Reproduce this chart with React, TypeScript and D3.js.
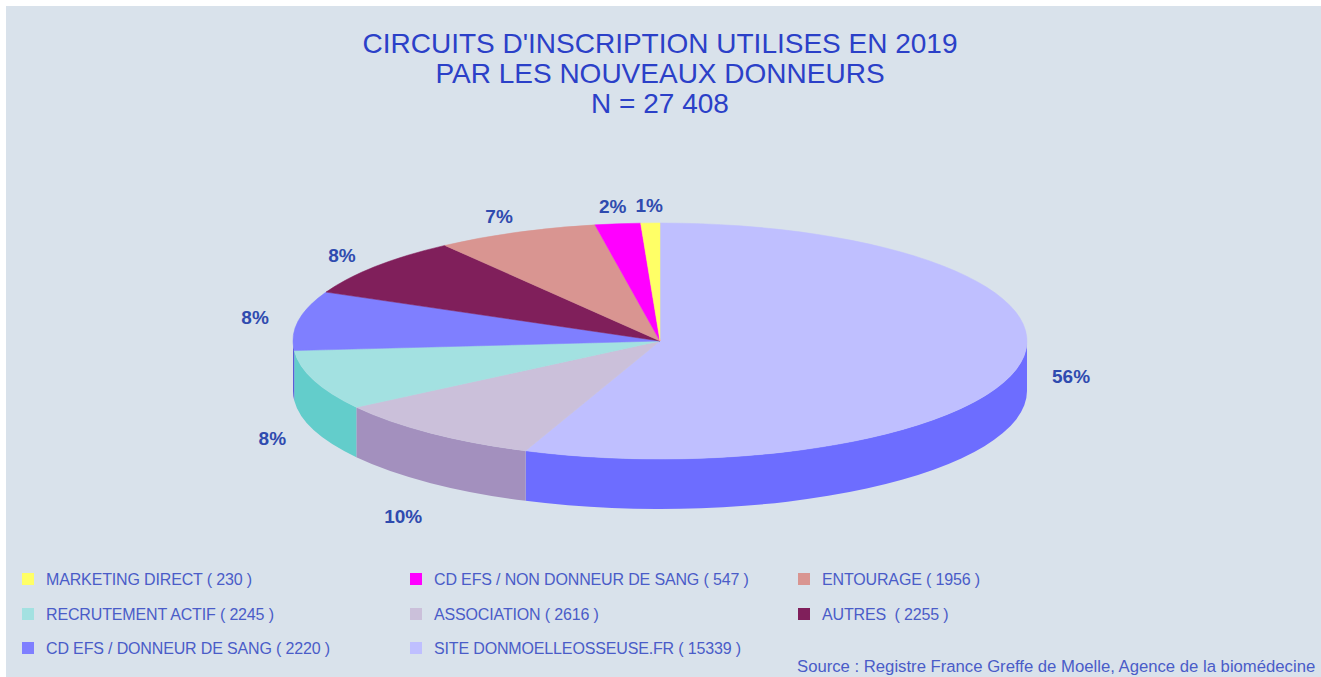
import React from "react";
import * as d3 from "d3";

const titleLines = [
  "CIRCUITS D'INSCRIPTION UTILISES EN 2019",
  "PAR LES NOUVEAUX DONNEURS",
  "N = 27 408",
];

// Slices in drawing order, clockwise from 12 o'clock
const sliceNames = [
  "SITE DONMOELLEOSSEUSE.FR",
  "ASSOCIATION",
  "RECRUTEMENT ACTIF",
  "CD EFS / DONNEUR DE SANG",
  "AUTRES",
  "ENTOURAGE",
  "CD EFS / NON DONNEUR DE SANG",
  "MARKETING DIRECT",
];
const sliceValues = [15339, 2616, 2245, 2220, 2255, 1956, 547, 230];
const sliceLabels = ["56%", "10%", "8%", "8%", "8%", "7%", "2%", "1%"];
const topColors = ["#BFBFFF", "#CBC0DA", "#A3E1E1", "#7F7FFF", "#801F5B", "#D99591", "#FF00FF", "#FFFF66"];
const sideColors = ["#6D6DFF", "#A390BE", "#63CDCB", "#5C5CD8", "#5E1542", "#B5746F", "#C000C0", "#D8D840"];

// Legend (row-major, 3 columns)
const legendNames = [
  "MARKETING DIRECT ( 230 )",
  "CD EFS / NON DONNEUR DE SANG ( 547 )",
  "ENTOURAGE ( 1956 )",
  "RECRUTEMENT ACTIF ( 2245 )",
  "ASSOCIATION ( 2616 )",
  "AUTRES  ( 2255 )",
  "CD EFS / DONNEUR DE SANG ( 2220 )",
  "SITE DONMOELLEOSSEUSE.FR ( 15339 )",
];
const legendColors = ["#FFFF66", "#FF00FF", "#D99591", "#A3E1E1", "#CBC0DA", "#801F5B", "#7F7FFF", "#BFBFFF"];

const sourceText = "Source : Registre France Greffe de Moelle, Agence de la biomédecine";

export default function App() {
  const W = 1321, H = 677;
  const cx = 660, cy = 341, rx = 367, ry = 118, depth = 50;

  const pie = d3.pie<number>().sort(null).value((d) => d).startAngle(0).endAngle(2 * Math.PI);
  const arcs = pie(sliceValues);

  const px = (a: number) => cx + rx * Math.sin(a);
  const py = (a: number) => cy - ry * Math.cos(a);

  const topPath = (a0: number, a1: number) => {
    const large = a1 - a0 > Math.PI ? 1 : 0;
    return `M${cx},${cy} L${px(a0)},${py(a0)} A${rx},${ry} 0 ${large} 1 ${px(a1)},${py(a1)} Z`;
  };
  const sidePath = (a0: number, a1: number) => {
    const s = Math.max(a0, Math.PI / 2);
    const e = Math.min(a1, (3 * Math.PI) / 2);
    if (e <= s) return null;
    return `M${px(s)},${py(s)} A${rx},${ry} 0 0 1 ${px(e)},${py(e)} L${px(e)},${py(e) + depth} A${rx},${ry} 0 0 0 ${px(s)},${py(s) + depth} Z`;
  };

  const labelPos = (a: number) => {
    const s = Math.sin(a), c = Math.cos(a);
    const x = cx + s * rx * (s > 0 ? 1.14 : 1.12);
    let y = cy - c * ry * 1.15;
    if (c < 0) y += 18 * (1 - s) + 51 * -c;
    return [x, y];
  };

  const colX = [22, 410, 798];
  const rowY = [579, 614, 648];
  const font = "Liberation Sans, Arial, sans-serif";

  return (
    <svg width={W} height={H} style={{ position: "absolute", left: 0, top: 0 }} xmlns="http://www.w3.org/2000/svg">
      <rect x={0} y={0} width={W} height={H} fill="#FFFFFF" />
      <rect x={6} y={6} width={W - 6} height={H - 6} fill="#D9E2EB" />
      {titleLines.map((t, i) => (
        <text key={i} x={660} y={43 + i * 30} textAnchor="middle" dominantBaseline="central"
          fontFamily={font} fontSize={28} fill="#2B40C8">{t}</text>
      ))}
      <g>
        {arcs.map((a, i) => {
          const d = sidePath(a.startAngle, a.endAngle);
          return d ? <path key={"s" + i} d={d} fill={sideColors[i]} /> : null;
        })}
        {arcs.map((a, i) => (
          <path key={"t" + i} d={topPath(a.startAngle, a.endAngle)} fill={topColors[i]} stroke={topColors[i]} strokeWidth={0.5} />
        ))}
      </g>
      {arcs.map((a, i) => {
        const [x, y] = labelPos((a.startAngle + a.endAngle) / 2);
        return (
          <text key={"l" + i} x={x} y={y} textAnchor="middle" dominantBaseline="central"
            fontFamily={font} fontSize={19} fontWeight="bold" fill="#2F4BAF">{sliceLabels[i]}</text>
        );
      })}
      {legendNames.map((n, i) => {
        const x = colX[i % 3], y = rowY[Math.floor(i / 3)];
        return (
          <g key={"lg" + i}>
            <rect x={x} y={y - 6} width={12} height={12} fill={legendColors[i]} />
            <text x={x + 24} y={y} dominantBaseline="central" fontFamily={font}
              fontSize={16} letterSpacing={-0.15} fill="#4A5CC8" style={{ whiteSpace: "pre" }}>{n}</text>
          </g>
        );
      })}
      <text x={797} y={666} dominantBaseline="central" fontFamily={font}
        fontSize={16.7} fill="#4A5CC8">{sourceText}</text>
    </svg>
  );
}
